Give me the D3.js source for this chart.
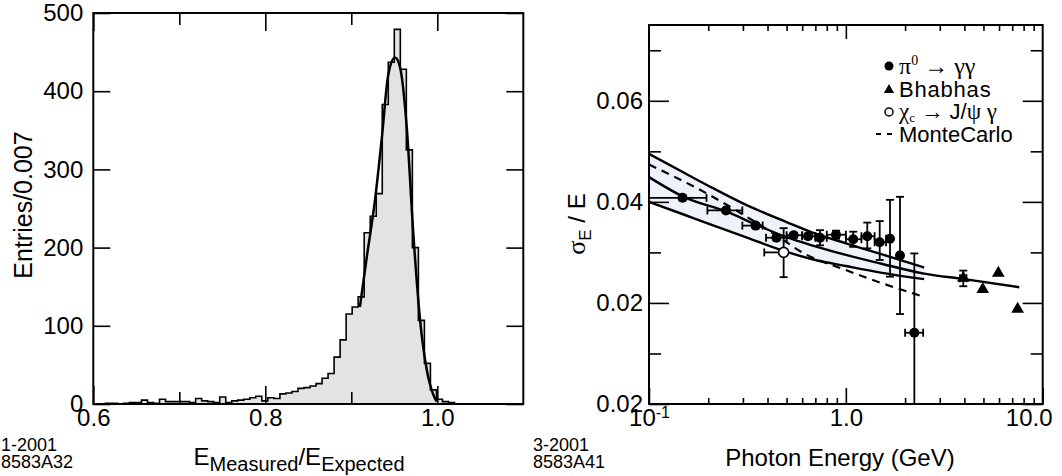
<!DOCTYPE html>
<html>
<head>
<meta charset="utf-8">
<script src="https://cdn.jsdelivr.net/npm/d3@7"></script>
<style>
  body { margin: 0; background: #fff; }
  svg { display: block; font-family: "Liberation Sans", Arial, Helvetica, sans-serif; }
  .frame { fill: none; stroke: #000; stroke-width: 2; }
  .ax path.domain { display: none; }
  .ax line { stroke: #000; stroke-width: 1.6; }
  .ax text { font-size: 24px; fill: #000; font-family: "Liberation Sans", Arial, sans-serif; }
  .greek { font-family: "Liberation Serif", "DejaVu Serif", serif; }
</style>
</head>
<body>
<script>
// ---- left panel data: histogram, 0.007 wide bins from 0.6
const binStart = 0.6
const binWidth = 0.007
const histCounts = [0, 0, 1, 1, 0, 1, 2, 2, 5, 2,
  1, 6, 3, 3, 3, 3, 2, 7, 4, 3,
  2, 9, 2, 4, 5, 6, 8, 10, 4, 8,
  7, 13, 14, 16, 20, 21, 23, 26, 33, 39,
  60, 82, 115, 124, 137, 219, 240, 269, 383, 437,
  479, 428, 325, 200, 107, 52, 18, 6, 3, 2]
const fitX = [0.910, 0.918, 0.9276, 0.9353, 0.943, 0.9508, 0.9566, 0.9644, 0.9721, 0.980, 0.9877, 0.9953, 0.9993]
const fitY = [124, 188, 261, 338, 421, 443, 431, 355, 218, 107, 44, 12, 3]
const leftXTicks = [0.6, 0.8, 1.0]
const leftXMinor = [0.7, 0.9]
const leftYTicks = [0, 100, 200, 300, 400, 500]

// ---- right panel data
const pi0E = [0.148, 0.246, 0.348, 0.444, 0.543, 0.643, 0.739, 0.891, 1.09, 1.285, 1.486, 1.676, 1.884, 2.228]
const pi0Res = [0.0408, 0.0383, 0.0353, 0.0329, 0.0334, 0.0332, 0.0329, 0.0335, 0.0326, 0.0332, 0.0320, 0.0327, 0.0294, 0.0141]
const pi0ResLo = [0.0403, 0.0378, 0.0348, 0.0324, 0.0329, 0.0327, 0.0314, 0.0327, 0.0311, 0.0308, 0.0285, 0.0252, 0.0178, 0.0]
const pi0ResHi = [0.0413, 0.0388, 0.0358, 0.0334, 0.0339, 0.0337, 0.0344, 0.0343, 0.0341, 0.0359, 0.0362, 0.0404, 0.0410, 0.0298]
const pi0ELo = [0.1, 0.198, 0.298, 0.393, 0.5, 0.6, 0.7, 0.8, 1.0, 1.2, 1.4, 1.6, 1.884, 2.0]
const pi0EHi = [0.196, 0.298, 0.378, 0.501, 0.6, 0.7, 0.8, 1.0, 1.2, 1.4, 1.6, 1.676, 1.884, 2.47]

const bhabhaE = [3.95, 4.96, 5.95, 7.46]
const bhabhaRes = [0.0249, 0.0227, 0.0259, 0.0188]
const bhabhaResLo = [0.0233, 0.0227, 0.0259, 0.0188]
const bhabhaResHi = [0.0264, 0.0227, 0.0259, 0.0188]
const bhabhaELo = [3.8, 4.96, 5.95, 7.46]
const bhabhaEHi = [4.1, 4.96, 5.95, 7.46]

const chiE = [0.483]
const chiRes = [0.0300]
const chiResLo = [0.0251]
const chiResHi = [0.0348]
const chiELo = [0.385]
const chiEHi = [0.483]

const bandE = [0.1, 0.15, 0.2, 0.3, 0.5, 0.7, 1.0, 1.5, 2.5]
const bandUpper = [0.0495, 0.0458, 0.0432, 0.0397, 0.0360, 0.0337, 0.0318, 0.0297, 0.0270]
const bandLower = [0.0400, 0.0375, 0.0357, 0.0332, 0.0301, 0.0285, 0.0273, 0.0260, 0.0247]
const fitE = [0.1, 0.15, 0.25, 0.35, 0.5, 0.7, 1.0, 1.5, 2.5, 4.0, 7.6]
const fitRes = [0.0449, 0.0410, 0.0380, 0.0355, 0.0330, 0.0312, 0.0295, 0.0278, 0.0258, 0.0247, 0.0231]
const mcE = [0.1, 0.2, 0.3, 0.45, 0.6, 1.0, 1.5, 2.5]
const mcRes = [0.0474, 0.0415, 0.0375, 0.0332, 0.0300, 0.0265, 0.0240, 0.0212]

const rightXTicks = [0.1, 1, 10]
const rightXLabels = ['10-1', '1.0', '10.0']
const rightXMinor = [0.2, 0.3, 0.4, 0.5, 0.6, 0.7, 0.8, 0.9, 2, 3, 4, 5, 6, 7, 8, 9]
const rightYTicks = [0, 0.02, 0.04, 0.06]
const rightYLabels = ['0.02', '0.02', '0.04', '0.06']
const rightYMinor = [0.01, 0.03, 0.05, 0.07]

const svg = d3.select('body').append('svg').attr('width', 1062).attr('height', 476)

// ================= left panel =================
const L = {left: 93.3, right: 523.3, top: 13, bottom: 404}
const x1 = d3.scaleLinear().domain([0.6, 1.1]).range([L.left, L.right])
const y1 = d3.scaleLinear().domain([0, 500]).range([L.bottom, L.top])

const hist = histCounts.map((c, i) => ({x: binStart + i * binWidth, c}))
hist.push({x: binStart + histCounts.length * binWidth, c: 0})

svg.append('path').datum(hist)
  .attr('d', d3.area().x(d => x1(d.x)).y0(y1(0)).y1(d => y1(d.c)).curve(d3.curveStepAfter))
  .attr('fill', '#e3e3e3')
svg.append('path').datum(hist)
  .attr('d', d3.line().x(d => x1(d.x)).y(d => y1(d.c)).curve(d3.curveStepAfter))
  .attr('fill', 'none').attr('stroke', '#000').attr('stroke-width', 1.6)

svg.append('path').datum(fitX.map((v, i) => [v, fitY[i]]))
  .attr('d', d3.line().x(d => x1(d[0])).y(d => y1(d[1])).curve(d3.curveMonotoneX))
  .attr('fill', 'none').attr('stroke', '#000').attr('stroke-width', 2.5)

svg.append('g').attr('class', 'ax').attr('transform', `translate(0,${L.bottom})`)
  .call(d3.axisBottom(x1).tickValues(leftXTicks).tickSizeInner(-18).tickSizeOuter(0).tickPadding(5).tickFormat(d3.format('.1f')))
svg.append('g').attr('class', 'ax').attr('transform', `translate(0,${L.bottom})`)
  .call(d3.axisBottom(x1).tickValues(leftXMinor).tickSizeInner(-12).tickSizeOuter(0).tickFormat(''))
svg.append('g').attr('class', 'ax').attr('transform', `translate(0,${L.top})`)
  .call(d3.axisTop(x1).tickValues(leftXTicks).tickSizeInner(-18).tickSizeOuter(0).tickFormat(''))
svg.append('g').attr('class', 'ax').attr('transform', `translate(0,${L.top})`)
  .call(d3.axisTop(x1).tickValues(leftXMinor).tickSizeInner(-12).tickSizeOuter(0).tickFormat(''))
svg.append('g').attr('class', 'ax').attr('transform', `translate(${L.left},0)`)
  .call(d3.axisLeft(y1).tickValues(leftYTicks).tickSizeInner(-17).tickSizeOuter(0).tickPadding(10).tickFormat(d3.format('d')))
svg.append('g').attr('class', 'ax').attr('transform', `translate(${L.right},0)`)
  .call(d3.axisRight(y1).tickValues(leftYTicks).tickSizeInner(-17).tickSizeOuter(0).tickFormat(''))

svg.append('rect').attr('class', 'frame')
  .attr('x', L.left).attr('y', L.top).attr('width', L.right - L.left).attr('height', L.bottom - L.top)

// axis titles
svg.append('text').attr('transform', 'translate(32,205) rotate(-90)')
  .attr('text-anchor', 'middle').attr('font-size', 25).text('Entries/0.007')

const xt1 = svg.append('text').attr('x', 299).attr('y', 465).attr('text-anchor', 'middle').attr('font-size', 24)
xt1.append('tspan').text('E')
xt1.append('tspan').attr('font-size', 20).attr('dy', 6).text('Measured')
xt1.append('tspan').attr('dy', -6).text('/E')
xt1.append('tspan').attr('font-size', 20).attr('dy', 6).text('Expected')

svg.append('text').attr('x', 1).attr('y', 451).attr('font-size', 18).text('1-2001')
svg.append('text').attr('x', 1).attr('y', 468).attr('font-size', 18).text('8583A32')

// ================= right panel =================
const R = {left: 649, right: 1042.7, top: 25, bottom: 404}
const x2 = d3.scaleLog().domain([0.1, 10]).range([R.left, R.right])
const y2 = d3.scaleLinear().domain([0, 0.075]).range([R.bottom, R.top])

// band between the outer curves
svg.append('path').datum(bandE.map((e, i) => [e, bandLower[i], bandUpper[i]]))
  .attr('d', d3.area().x(d => x2(d[0])).y0(d => y2(d[1])).y1(d => y2(d[2])).curve(d3.curveMonotoneX))
  .attr('fill', '#eef3f9')

const curve = d3.line().x(d => x2(d[0])).y(d => y2(d[1])).curve(d3.curveMonotoneX)
svg.append('path').datum(bandE.map((e, i) => [e, bandUpper[i]])).attr('d', curve)
  .attr('fill', 'none').attr('stroke', '#000').attr('stroke-width', 2.4)
svg.append('path').datum(bandE.map((e, i) => [e, bandLower[i]])).attr('d', curve)
  .attr('fill', 'none').attr('stroke', '#000').attr('stroke-width', 2.4)
svg.append('path').datum(fitE.map((e, i) => [e, fitRes[i]])).attr('d', curve)
  .attr('fill', 'none').attr('stroke', '#000').attr('stroke-width', 2.4)
svg.append('path').datum(mcE.map((e, i) => [e, mcRes[i]])).attr('d', curve)
  .attr('fill', 'none').attr('stroke', '#000').attr('stroke-width', 2.2).attr('stroke-dasharray', '8,6')

// error bars
function errorBars (E, V, vLo, vHi, eLo, eHi) {
  const g = svg.append('g').attr('stroke', '#000').attr('stroke-width', 1.8)
  E.forEach((e, i) => {
    if (vHi[i] !== vLo[i]) {
      g.append('line').attr('x1', x2(e)).attr('x2', x2(e)).attr('y1', y2(vLo[i])).attr('y2', y2(vHi[i]))
      if (vLo[i] > 0) g.append('line').attr('x1', x2(e) - 4).attr('x2', x2(e) + 4).attr('y1', y2(vLo[i])).attr('y2', y2(vLo[i]))
      g.append('line').attr('x1', x2(e) - 4).attr('x2', x2(e) + 4).attr('y1', y2(vHi[i])).attr('y2', y2(vHi[i]))
    }
    if (eHi[i] !== eLo[i]) {
      g.append('line').attr('x1', x2(eLo[i])).attr('x2', x2(eHi[i])).attr('y1', y2(V[i])).attr('y2', y2(V[i]))
      ;[eLo[i], eHi[i]].forEach(b => {
        if (b !== e && b > 0.1) {
          g.append('line').attr('x1', x2(b)).attr('x2', x2(b)).attr('y1', y2(V[i]) - 4).attr('y2', y2(V[i]) + 4)
        }
      })
    }
  })
}
errorBars(pi0E, pi0Res, pi0ResLo, pi0ResHi, pi0ELo, pi0EHi)
errorBars(bhabhaE, bhabhaRes, bhabhaResLo, bhabhaResHi, bhabhaELo, bhabhaEHi)
errorBars(chiE, chiRes, chiResLo, chiResHi, chiELo, chiEHi)

svg.append('g').selectAll('circle').data(pi0E).join('circle')
  .attr('cx', d => x2(d)).attr('cy', (d, i) => y2(pi0Res[i])).attr('r', 5).attr('fill', '#000')
const tri = d3.symbol().type(d3.symbolTriangle).size(70)
svg.append('g').selectAll('path').data(bhabhaE).join('path')
  .attr('transform', (d, i) => `translate(${x2(d)},${y2(bhabhaRes[i])})`).attr('d', tri).attr('fill', '#000')
svg.append('g').selectAll('circle').data(chiE).join('circle')
  .attr('cx', d => x2(d)).attr('cy', (d, i) => y2(chiRes[i])).attr('r', 5)
  .attr('fill', '#fff').attr('stroke', '#000').attr('stroke-width', 1.6)

// axes
const xLab = svg.append('g').attr('class', 'ax').attr('transform', `translate(0,${R.bottom})`)
  .call(d3.axisBottom(x2).tickValues(rightXTicks).tickSizeInner(-16).tickSizeOuter(0).tickPadding(5)
    .tickFormat((d, i) => rightXLabels[i]))
xLab.selectAll('text').each(function (d, i) {
  const t = d3.select(this)
  if (i === 0) {
    t.text(null)
    t.append('tspan').text('10')
    t.append('tspan').attr('font-size', 16).attr('dy', -8).text('-1')
  }
  if (i === rightXTicks.length - 1) t.attr('dx', -14)
})
svg.append('g').attr('class', 'ax').attr('transform', `translate(0,${R.bottom})`)
  .call(d3.axisBottom(x2).tickValues(rightXMinor).tickSizeInner(-6).tickSizeOuter(0).tickFormat(''))
svg.append('g').attr('class', 'ax').attr('transform', `translate(0,${R.top})`)
  .call(d3.axisTop(x2).tickValues([1]).tickSizeInner(-14).tickSizeOuter(0).tickFormat(''))
svg.append('g').attr('class', 'ax').attr('transform', `translate(0,${R.top})`)
  .call(d3.axisTop(x2).tickValues(rightXMinor).tickSizeInner(-6).tickSizeOuter(0).tickFormat(''))

svg.append('g').attr('class', 'ax').attr('transform', `translate(${R.left},0)`)
  .call(d3.axisLeft(y2).tickValues(rightYTicks).tickSizeInner(-20).tickSizeOuter(0).tickPadding(6)
    .tickFormat((d, i) => rightYLabels[i]))
svg.append('g').attr('class', 'ax').attr('transform', `translate(${R.left},0)`)
  .call(d3.axisLeft(y2).tickValues(rightYMinor).tickSizeInner(-12).tickSizeOuter(0).tickFormat(''))
svg.append('g').attr('class', 'ax').attr('transform', `translate(${R.right},0)`)
  .call(d3.axisRight(y2).tickValues(rightYTicks).tickSizeInner(-20).tickSizeOuter(0).tickFormat(''))
svg.append('g').attr('class', 'ax').attr('transform', `translate(${R.right},0)`)
  .call(d3.axisRight(y2).tickValues(rightYMinor).tickSizeInner(-12).tickSizeOuter(0).tickFormat(''))

svg.append('rect').attr('class', 'frame')
  .attr('x', R.left).attr('y', R.top).attr('width', R.right - R.left).attr('height', R.bottom - R.top)

// titles
const yt2 = svg.append('text').attr('transform', 'translate(585,224) rotate(-90)')
  .attr('text-anchor', 'middle').attr('font-size', 24)
yt2.append('tspan').attr('class', 'greek').attr('font-size', 26).text('σ')
yt2.append('tspan').attr('font-size', 17).attr('dy', 6).text('E')
yt2.append('tspan').attr('dy', -6).text(' / E')

svg.append('text').attr('x', 840).attr('y', 466).attr('text-anchor', 'middle').attr('font-size', 24)
  .text('Photon Energy (GeV)')
svg.append('text').attr('x', 533).attr('y', 451).attr('font-size', 18).text('3-2001')
svg.append('text').attr('x', 533).attr('y', 468).attr('font-size', 18).text('8583A41')

// legend
const lg = svg.append('g').attr('font-size', 22)
const lx = 889
const tx = 899
lg.append('circle').attr('cx', lx).attr('cy', 66).attr('r', 4.5).attr('fill', '#000')
const l1 = lg.append('text').attr('x', tx).attr('y', 74)
l1.append('tspan').attr('class', 'greek').attr('font-size', 24).text('π')
l1.append('tspan').attr('class', 'greek').attr('font-size', 14).attr('dy', -9).text('0')
l1.append('tspan').attr('class', 'greek').attr('font-size', 24).attr('dy', 9).text(' → γγ')

lg.append('path').attr('transform', `translate(${lx},${90})`).attr('d', d3.symbol().type(d3.symbolTriangle).size(45)).attr('fill', '#000')
lg.append('text').attr('x', tx).attr('y', 97).attr('letter-spacing', 0.8).text('Bhabhas')

lg.append('circle').attr('cx', lx).attr('cy', 112).attr('r', 4).attr('fill', '#fff').attr('stroke', '#000').attr('stroke-width', 1.5)
const l3 = lg.append('text').attr('x', tx).attr('y', 119)
l3.append('tspan').attr('class', 'greek').attr('font-size', 23).text('χ')
l3.append('tspan').attr('class', 'greek').attr('font-size', 13).attr('dy', 3).text('c')
l3.append('tspan').attr('class', 'greek').attr('font-size', 23).attr('dy', -3).text(' → ')
l3.append('tspan').text('J/')
l3.append('tspan').attr('class', 'greek').attr('font-size', 23).text('ψ γ')

lg.append('line').attr('x1', 876).attr('x2', 892).attr('y1', 134).attr('y2', 134)
  .attr('stroke', '#000').attr('stroke-width', 2).attr('stroke-dasharray', '5,6')
lg.append('text').attr('x', tx).attr('y', 142).text('MonteCarlo')
</script>
</body>
</html>
